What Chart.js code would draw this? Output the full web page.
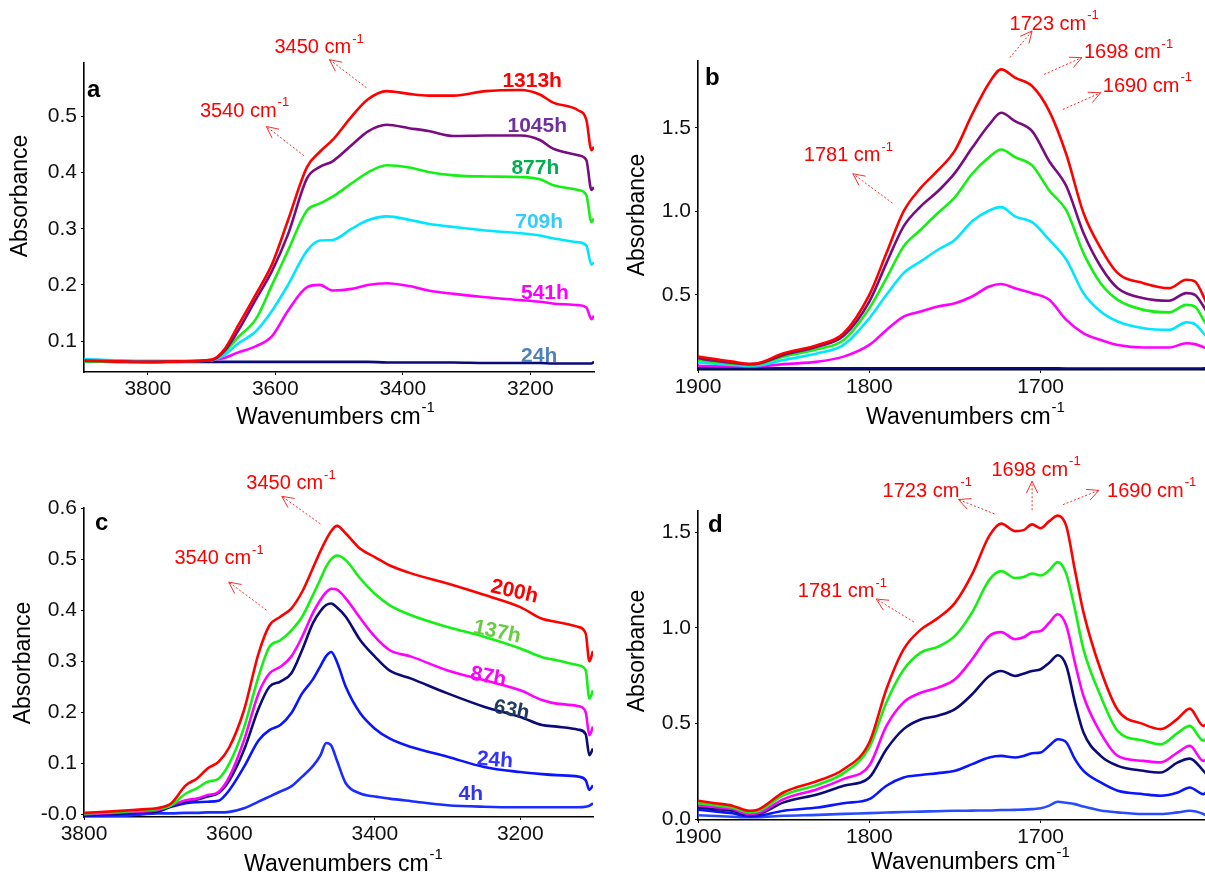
<!DOCTYPE html>
<html>
<head>
<meta charset="utf-8">
<title>FTIR absorbance spectra</title>
<script src="https://cdn.jsdelivr.net/npm/chart.js@4.4.0/dist/chart.umd.min.js"></script>
<style>
  html, body { margin: 0; padding: 0; background: #fff; overflow: hidden; }
  body { width: 1205px; height: 879px; position: relative; }
  canvas { position: absolute; }
  #chartA { left: 0; top: 0; }
  #chartB { left: 602px; top: 0; }
  #chartC { left: 0; top: 440px; }
  #chartD { left: 602px; top: 440px; }
</style>
</head>
<body>
<canvas id="chartA" width="602" height="440"></canvas>
<canvas id="chartB" width="612" height="440"></canvas>
<canvas id="chartC" width="602" height="439"></canvas>
<canvas id="chartD" width="612" height="439"></canvas>

<script>
// ---- Panel a : O-H region, long exposure ----
const waveA = [3900, 3850, 3800, 3750, 3700, 3680, 3660, 3630, 3605, 3580, 3550, 3530, 3510, 3480, 3455, 3425, 3390, 3360, 3320, 3270, 3215, 3185, 3165, 3125, 3112, 3104, 3100];
const a1313 = [0.065, 0.064, 0.063, 0.064, 0.067, 0.085, 0.124, 0.184, 0.237, 0.315, 0.41, 0.437, 0.458, 0.5, 0.53, 0.545, 0.54, 0.537, 0.537, 0.545, 0.547, 0.539, 0.525, 0.511, 0.494, 0.44, 0.446];
const a1045 = [0.065, 0.064, 0.063, 0.064, 0.066, 0.082, 0.115, 0.175, 0.225, 0.29, 0.39, 0.41, 0.42, 0.449, 0.473, 0.485, 0.479, 0.474, 0.465, 0.466, 0.466, 0.458, 0.443, 0.431, 0.422, 0.369, 0.374];
const a877 = [0.064, 0.063, 0.062, 0.064, 0.066, 0.08, 0.105, 0.14, 0.2, 0.261, 0.333, 0.345, 0.357, 0.381, 0.4, 0.413, 0.409, 0.401, 0.395, 0.393, 0.392, 0.388, 0.378, 0.369, 0.36, 0.312, 0.318];
const a709 = [0.068, 0.066, 0.065, 0.065, 0.066, 0.075, 0.094, 0.118, 0.154, 0.2, 0.261, 0.279, 0.28, 0.3, 0.315, 0.322, 0.316, 0.309, 0.303, 0.297, 0.292, 0.288, 0.283, 0.276, 0.27, 0.236, 0.24];
const a541 = [0.067, 0.065, 0.064, 0.064, 0.066, 0.07, 0.079, 0.091, 0.109, 0.154, 0.196, 0.2, 0.19, 0.193, 0.2, 0.203, 0.198, 0.19, 0.184, 0.178, 0.173, 0.17, 0.167, 0.164, 0.16, 0.139, 0.145];
const a24 = [0.064, 0.063, 0.063, 0.063, 0.063, 0.063, 0.063, 0.063, 0.063, 0.063, 0.063, 0.063, 0.063, 0.063, 0.063, 0.062, 0.062, 0.062, 0.062, 0.061, 0.061, 0.061, 0.06, 0.06, 0.06, 0.06, 0.063];

// ---- Panel b : carbonyl region, long exposure ----
const waveB = [1900, 1890, 1880, 1870, 1865, 1850, 1830, 1815, 1800, 1790, 1780, 1770, 1760, 1750, 1740, 1730, 1723, 1715, 1705, 1695, 1685, 1675, 1665, 1655, 1640, 1625, 1615, 1610, 1603, 1600];
const b1313 = [0.13, 0.115, 0.1, 0.086, 0.09, 0.15, 0.2, 0.27, 0.5, 0.75, 1.0, 1.14, 1.245, 1.365, 1.58, 1.77, 1.85, 1.8, 1.75, 1.6, 1.34, 0.99, 0.78, 0.63, 0.57, 0.54, 0.59, 0.58, 0.45, 0.4];
const b1045 = [0.12, 0.105, 0.093, 0.085, 0.088, 0.14, 0.19, 0.255, 0.46, 0.69, 0.91, 1.03, 1.12, 1.23, 1.38, 1.52, 1.59, 1.54, 1.48, 1.3, 1.15, 0.87, 0.67, 0.54, 0.48, 0.465, 0.51, 0.5, 0.4, 0.36];
const b877 = [0.11, 0.097, 0.088, 0.08, 0.083, 0.13, 0.175, 0.23, 0.42, 0.6, 0.79, 0.89, 0.99, 1.085, 1.225, 1.325, 1.37, 1.325, 1.275, 1.125, 1.005, 0.75, 0.57, 0.47, 0.41, 0.395, 0.44, 0.43, 0.32, 0.3];
const b709 = [0.095, 0.087, 0.08, 0.075, 0.077, 0.11, 0.15, 0.2, 0.36, 0.5, 0.63, 0.7, 0.77, 0.83, 0.94, 1.005, 1.025, 0.97, 0.935, 0.83, 0.71, 0.51, 0.4, 0.34, 0.3, 0.29, 0.335, 0.325, 0.25, 0.24];
const b541 = [0.075, 0.073, 0.072, 0.07, 0.071, 0.085, 0.1, 0.13, 0.2, 0.29, 0.37, 0.4, 0.43, 0.45, 0.49, 0.55, 0.565, 0.54, 0.51, 0.47, 0.35, 0.27, 0.23, 0.2, 0.185, 0.185, 0.21, 0.205, 0.18, 0.175];
const b24 = [0.06, 0.06, 0.06, 0.06, 0.06, 0.06, 0.06, 0.06, 0.06, 0.06, 0.06, 0.06, 0.06, 0.06, 0.06, 0.06, 0.06, 0.06, 0.06, 0.06, 0.059, 0.059, 0.059, 0.058, 0.058, 0.058, 0.058, 0.058, 0.062, 0.09];

// ---- Panel c : O-H region, short exposure ----
const waveC = [3800, 3750, 3720, 3700, 3680, 3660, 3645, 3630, 3615, 3600, 3580, 3560, 3545, 3530, 3515, 3500, 3485, 3475, 3467, 3460, 3452, 3440, 3420, 3400, 3380, 3350, 3300, 3250, 3200, 3170, 3150, 3120, 3110, 3105, 3100];
const c200 = [0.003, 0.007, 0.01, 0.012, 0.022, 0.057, 0.07, 0.09, 0.103, 0.132, 0.204, 0.315, 0.37, 0.387, 0.403, 0.436, 0.483, 0.515, 0.538, 0.555, 0.565, 0.55, 0.52, 0.504, 0.488, 0.472, 0.452, 0.43, 0.406, 0.383, 0.377, 0.367, 0.354, 0.3, 0.32];
const c137 = [0.002, 0.005, 0.008, 0.01, 0.018, 0.041, 0.051, 0.064, 0.07, 0.1, 0.17, 0.27, 0.328, 0.341, 0.36, 0.387, 0.43, 0.46, 0.485, 0.5, 0.507, 0.498, 0.462, 0.432, 0.41, 0.39, 0.367, 0.348, 0.325, 0.308, 0.302, 0.292, 0.282, 0.227, 0.243];
const c87 = [0.0, 0.004, 0.006, 0.008, 0.018, 0.028, 0.031, 0.038, 0.044, 0.074, 0.145, 0.237, 0.276, 0.289, 0.309, 0.348, 0.395, 0.42, 0.435, 0.442, 0.44, 0.423, 0.384, 0.348, 0.322, 0.309, 0.282, 0.263, 0.243, 0.224, 0.217, 0.212, 0.2, 0.155, 0.172];
const c63 = [-0.002, 0.002, 0.004, 0.006, 0.016, 0.025, 0.029, 0.035, 0.042, 0.067, 0.126, 0.207, 0.25, 0.26, 0.276, 0.322, 0.375, 0.398, 0.41, 0.413, 0.405, 0.387, 0.341, 0.309, 0.282, 0.266, 0.237, 0.211, 0.191, 0.175, 0.172, 0.166, 0.157, 0.116, 0.129];
const c24 = [-0.003, 0.0, 0.003, 0.005, 0.015, 0.022, 0.024, 0.025, 0.027, 0.048, 0.093, 0.145, 0.165, 0.175, 0.198, 0.237, 0.265, 0.29, 0.31, 0.318, 0.298, 0.25, 0.198, 0.168, 0.149, 0.132, 0.113, 0.093, 0.083, 0.079, 0.077, 0.074, 0.067, 0.048, 0.057];
const c4 = [-0.004, -0.003, 0.0, 0.002, 0.002, 0.003, 0.003, 0.004, 0.004, 0.005, 0.012, 0.025, 0.035, 0.045, 0.055, 0.074, 0.095, 0.115, 0.14, 0.135, 0.105, 0.061, 0.041, 0.035, 0.031, 0.026, 0.018, 0.015, 0.014, 0.014, 0.014, 0.014, 0.015, 0.017, 0.022];

// ---- Panel d : carbonyl region, short exposure ----
const waveD = [1900, 1890, 1880, 1870, 1865, 1850, 1830, 1815, 1800, 1790, 1780, 1770, 1760, 1750, 1740, 1730, 1723, 1715, 1710, 1705, 1700, 1695, 1690, 1685, 1680, 1675, 1665, 1655, 1640, 1630, 1620, 1613, 1605, 1600];
const d200 = [0.096, 0.083, 0.07, 0.043, 0.049, 0.14, 0.2, 0.26, 0.4, 0.68, 0.887, 0.99, 1.05, 1.13, 1.28, 1.48, 1.544, 1.505, 1.51, 1.54, 1.52, 1.557, 1.586, 1.53, 1.3, 1.08, 0.78, 0.57, 0.496, 0.47, 0.525, 0.577, 0.487, 0.54];
const d137 = [0.083, 0.072, 0.06, 0.035, 0.04, 0.125, 0.18, 0.24, 0.374, 0.61, 0.78, 0.87, 0.9, 0.957, 1.08, 1.25, 1.296, 1.26, 1.265, 1.283, 1.273, 1.3, 1.343, 1.28, 1.096, 0.887, 0.643, 0.46, 0.41, 0.39, 0.45, 0.487, 0.41, 0.46];
const d87 = [0.073, 0.062, 0.052, 0.026, 0.03, 0.104, 0.157, 0.21, 0.28, 0.487, 0.61, 0.66, 0.687, 0.73, 0.835, 0.957, 0.977, 0.94, 0.95, 0.977, 0.983, 1.026, 1.07, 1.01, 0.817, 0.643, 0.45, 0.33, 0.304, 0.296, 0.348, 0.383, 0.304, 0.357];
const d63 = [0.06, 0.052, 0.043, 0.02, 0.024, 0.087, 0.13, 0.174, 0.217, 0.365, 0.47, 0.52, 0.54, 0.574, 0.652, 0.748, 0.774, 0.748, 0.76, 0.774, 0.783, 0.817, 0.856, 0.8, 0.61, 0.452, 0.33, 0.278, 0.252, 0.243, 0.296, 0.316, 0.252, 0.2];
const d24 = [0.049, 0.04, 0.03, 0.014, 0.016, 0.043, 0.06, 0.083, 0.104, 0.174, 0.217, 0.23, 0.24, 0.252, 0.287, 0.322, 0.33, 0.322, 0.33, 0.344, 0.348, 0.383, 0.417, 0.4, 0.313, 0.252, 0.191, 0.148, 0.13, 0.122, 0.139, 0.165, 0.13, 0.19];
const d4 = [0.02, 0.016, 0.012, 0.009, 0.01, 0.017, 0.022, 0.027, 0.031, 0.034, 0.037, 0.039, 0.041, 0.043, 0.044, 0.045, 0.047, 0.048, 0.049, 0.052, 0.056, 0.07, 0.09, 0.085, 0.078, 0.065, 0.045, 0.035, 0.026, 0.026, 0.035, 0.043, 0.026, 0.0];

// tick values and labels
const xTicksOH = [3800, 3600, 3400, 3200];
const xTicksCO = [1900, 1800, 1700];
const yTicksA = [0.1, 0.2, 0.3, 0.4, 0.5];
const yLabelsA = ['0.1', '0.2', '0.3', '0.4', '0.5'];
const yTicksB = [0.5, 1.0, 1.5];
const yLabelsB = ['0.5', '1.0', '1.5'];
const yTicksC = [0, 0.1, 0.2, 0.3, 0.4, 0.5, 0.6];
const yLabelsC = ['-0.0', '0.1', '0.2', '0.3', '0.4', '0.5', '0.6'];
const yTicksD = [0, 0.5, 1.0, 1.5];
const yLabelsD = ['0.0', '0.5', '1.0', '1.5'];

const FONT = '"Liberation Sans", Arial, Helvetica, sans-serif';
Chart.defaults.font.family = FONT;

const RED = '#ff0000', PURPLE = '#7a0c82', GREEN = '#14f014', CYAN = '#00e6ff', MAGENTA = '#ff00ff', NAVY = '#0a0a78', BLUE = '#0a14ff';

function series(wave, vals, color) {
    return {
        data: wave.map((w, i) => ({ x: w, y: vals[i] })),
        borderColor: color,
        borderWidth: 2.6,
        pointRadius: 0,
        fill: false,
        cubicInterpolationMode: 'monotone'
    };
}

// "cm-1" style text with a raised part
function drawSup(ctx, main, sup, x, y, size, color) {
    const small = Math.round(size * 0.66);
    ctx.font = size + 'px ' + FONT;
    const w1 = ctx.measureText(main).width;
    ctx.font = small + 'px ' + FONT;
    const w2 = ctx.measureText(sup).width;
    const left = x - (w1 + w2) / 2;
    ctx.fillStyle = color;
    ctx.textAlign = 'left';
    ctx.textBaseline = 'middle';
    ctx.font = size + 'px ' + FONT;
    ctx.fillText(main, left, y);
    ctx.font = small + 'px ' + FONT;
    ctx.fillText(sup, left + w1 + 1, y - size * 0.42);
}

function drawArrow(ctx, x1, y1, x2, y2) {
    ctx.strokeStyle = 'rgba(255,20,20,0.9)';
    ctx.lineWidth = 1;
    ctx.setLineDash([2, 2]);
    ctx.beginPath();
    ctx.moveTo(x1, y1);
    ctx.lineTo(x2, y2);
    ctx.stroke();
    ctx.setLineDash([]);
    const a = Math.atan2(y2 - y1, x2 - x1), L = 13;
    ctx.beginPath();
    ctx.moveTo(x2 - L * Math.cos(a - 0.45), y2 - L * Math.sin(a - 0.45));
    ctx.lineTo(x2, y2);
    ctx.lineTo(x2 - L * Math.cos(a + 0.45), y2 - L * Math.sin(a + 0.45));
    ctx.stroke();
}

// panel letter, axis titles, peak notes and series tags
function decor(cfg) {
    return {
        id: 'decor',
        afterDraw(chart) {
            const ctx = chart.ctx, xs = chart.scales.x, ys = chart.scales.y;
            ctx.save();
            ctx.fillStyle = '#000';
            ctx.font = 'bold 24px ' + FONT;
            ctx.textAlign = 'left';
            ctx.textBaseline = 'middle';
            ctx.fillText(cfg.letter, cfg.letterPos[0], cfg.letterPos[1]);

            drawSup(ctx, 'Wavenumbers cm', '-1', cfg.xTitlePos[0], cfg.xTitlePos[1], 23, '#000');

            ctx.save();
            ctx.translate(cfg.yTitlePos[0], cfg.yTitlePos[1]);
            ctx.rotate(-Math.PI / 2);
            ctx.fillStyle = '#000';
            ctx.font = '23px ' + FONT;
            ctx.textAlign = 'center';
            ctx.textBaseline = 'middle';
            ctx.fillText('Absorbance', 0, 0);
            ctx.restore();

            cfg.notes.forEach(n => {
                drawSup(ctx, n.text + ' cm', '-1', xs.getPixelForValue(n.at[0]), ys.getPixelForValue(n.at[1]), 20, RED);
                drawArrow(ctx, xs.getPixelForValue(n.from[0]), ys.getPixelForValue(n.from[1]),
                    xs.getPixelForValue(n.to[0]), ys.getPixelForValue(n.to[1]));
            });

            cfg.tags.forEach(t => {
                ctx.save();
                ctx.translate(xs.getPixelForValue(t.at[0]), ys.getPixelForValue(t.at[1]));
                ctx.rotate((t.rot || 0) * Math.PI / 180);
                ctx.font = 'bold 21px ' + FONT;
                ctx.fillStyle = t.color;
                ctx.textAlign = 'center';
                ctx.textBaseline = 'middle';
                ctx.fillText(t.text, 0, 0);
                ctx.restore();
            });
            ctx.restore();
        }
    };
}

function buildPanel(id, p) {
    new Chart(document.getElementById(id), {
        type: 'line',
        data: { datasets: p.datasets },
        options: {
            responsive: false,
            animation: false,
            devicePixelRatio: 1,
            layout: { padding: p.padding },
            plugins: { legend: { display: false }, tooltip: { enabled: false } },
            scales: {
                x: {
                    type: 'linear',
                    reverse: true,
                    min: p.xRange[0],
                    max: p.xRange[1],
                    afterBuildTicks: s => { s.ticks = p.xTicks.map(v => ({ value: v })); },
                    afterFit: s => { s.height = p.xHeight; },
                    ticks: { color: '#111', font: { size: 21 }, padding: 2, maxRotation: 0, autoSkip: false, callback: v => String(v) },
                    grid: { display: true, drawOnChartArea: false, drawTicks: true, tickLength: 3, color: '#000' },
                    border: { display: true, color: '#000', width: 1.6 }
                },
                y: {
                    type: 'linear',
                    min: p.yRange[0],
                    max: p.yRange[1],
                    afterBuildTicks: s => { s.ticks = p.yTicks.map(v => ({ value: v })); },
                    afterFit: s => { s.width = p.yWidth; },
                    ticks: { color: '#111', font: { size: 21 }, padding: 4, autoSkip: false, callback: (v, i) => p.yLabels[i] },
                    grid: { display: true, drawOnChartArea: false, drawTicks: true, tickLength: 3, color: '#000' },
                    border: { display: true, color: '#000', width: 1.6 }
                }
            }
        },
        plugins: [decor(p.decor)]
    });
}

document.addEventListener('DOMContentLoaded', function() {
    buildPanel('chartA', {
        datasets: [
            series(waveA, a1313, RED), series(waveA, a1045, PURPLE), series(waveA, a877, GREEN),
            series(waveA, a709, CYAN), series(waveA, a541, MAGENTA), series(waveA, a24, NAVY)
        ],
        xRange: [3100, 3900], xTicks: xTicksOH,
        yRange: [0.045, 0.595], yTicks: yTicksA, yLabels: yLabelsA,
        padding: { left: 0, top: 63, right: 8, bottom: 0 }, yWidth: 84, xHeight: 68,
        decor: {
            letter: 'a', letterPos: [87, 90], xTitlePos: [335, 418], yTitlePos: [21, 196],
            notes: [
                { text: '3450', at: [3532, 0.622], from: [3457, 0.551], to: [3515, 0.601] },
                { text: '3540', at: [3649, 0.509], from: [3555, 0.43], to: [3614, 0.482] }
            ],
            tags: [
                { text: '1313h', at: [3197, 0.563], color: '#ff0000' },
                { text: '1045h', at: [3189, 0.482], color: '#7030a0' },
                { text: '877h', at: [3192, 0.407], color: '#00b050' },
                { text: '709h', at: [3186, 0.311], color: '#33ccff' },
                { text: '541h', at: [3177, 0.185], color: '#ff00ff' },
                { text: '24h', at: [3186, 0.073], color: '#4f81bd' }
            ]
        }
    });

    buildPanel('chartB', {
        datasets: [
            series(waveB, b1313, RED), series(waveB, b1045, PURPLE), series(waveB, b877, GREEN),
            series(waveB, b709, CYAN), series(waveB, b541, MAGENTA), series(waveB, b24, NAVY)
        ],
        xRange: [1600, 1900], xTicks: xTicksCO,
        yRange: [0.05, 1.9], yTicks: yTicksB, yLabels: yLabelsB,
        padding: { left: 0, top: 61, right: 2, bottom: 0 }, yWidth: 96, xHeight: 70,
        decor: {
            letter: 'b', letterPos: [103, 78], xTitlePos: [363, 418], yTitlePos: [36, 215],
            notes: [
                { text: '1723', at: [1692.4, 2.12], from: [1718, 1.92], to: [1705, 2.08] },
                { text: '1698', at: [1649, 1.95], from: [1698, 1.82], to: [1676, 1.92] },
                { text: '1690', at: [1638, 1.75], from: [1687, 1.61], to: [1665, 1.71] },
                { text: '1781', at: [1812.5, 1.335], from: [1786.6, 1.05], to: [1809.6, 1.225] }
            ],
            tags: []
        }
    });

    buildPanel('chartC', {
        datasets: [
            series(waveC, c200, RED), series(waveC, c137, GREEN), series(waveC, c87, MAGENTA),
            series(waveC, c63, NAVY), series(waveC, c24, BLUE), series(waveC, c4, '#1a2cff')
        ],
        xRange: [3100, 3800], xTicks: xTicksOH,
        yRange: [-0.005, 0.6], yTicks: yTicksC, yLabels: yLabelsC,
        padding: { left: 0, top: 68, right: 9, bottom: 0 }, yWidth: 84, xHeight: 62,
        decor: {
            letter: 'c', letterPos: [95, 83], xTitlePos: [343, 425], yTitlePos: [24, 223],
            notes: [
                { text: '3450', at: [3516, 0.648], from: [3475, 0.569], to: [3528, 0.623] },
                { text: '3540', at: [3615, 0.501], from: [3549, 0.4], to: [3601, 0.455] }
            ],
            tags: [
                { text: '200h', at: [3208, 0.436], color: '#ff0000', rot: 13 },
                { text: '137h', at: [3232, 0.357], color: '#66cc44', rot: 12 },
                { text: '87h', at: [3244, 0.269], color: '#ff00ff', rot: 11 },
                { text: '63h', at: [3212, 0.204], color: '#1f3a5f', rot: 11 },
                { text: '24h', at: [3235, 0.106], color: '#3333ff', rot: 4 },
                { text: '4h', at: [3268, 0.039], color: '#3333ee', rot: 0 }
            ]
        }
    });

    buildPanel('chartD', {
        datasets: [
            series(waveD, d200, RED), series(waveD, d137, GREEN), series(waveD, d87, MAGENTA),
            series(waveD, d63, NAVY), series(waveD, d24, BLUE), series(waveD, d4, '#2a4cff')
        ],
        xRange: [1600, 1900], xTicks: xTicksCO,
        yRange: [-0.005, 1.61], yTicks: yTicksD, yLabels: yLabelsD,
        padding: { left: 0, top: 71, right: 2, bottom: 0 }, yWidth: 96, xHeight: 59,
        decor: {
            letter: 'd', letterPos: [106, 85], xTitlePos: [368, 423], yTitlePos: [36, 211],
            notes: [
                { text: '1723', at: [1766.5, 1.713], from: [1727, 1.595], to: [1748, 1.67] },
                { text: '1698', at: [1703, 1.823], from: [1705, 1.614], to: [1705, 1.765] },
                { text: '1690', at: [1635.5, 1.713], from: [1687, 1.643], to: [1666, 1.718] },
                { text: '1781', at: [1816, 1.19], from: [1774, 1.03], to: [1796, 1.15] }
            ],
            tags: []
        }
    });
});
</script>
</body>
</html>
